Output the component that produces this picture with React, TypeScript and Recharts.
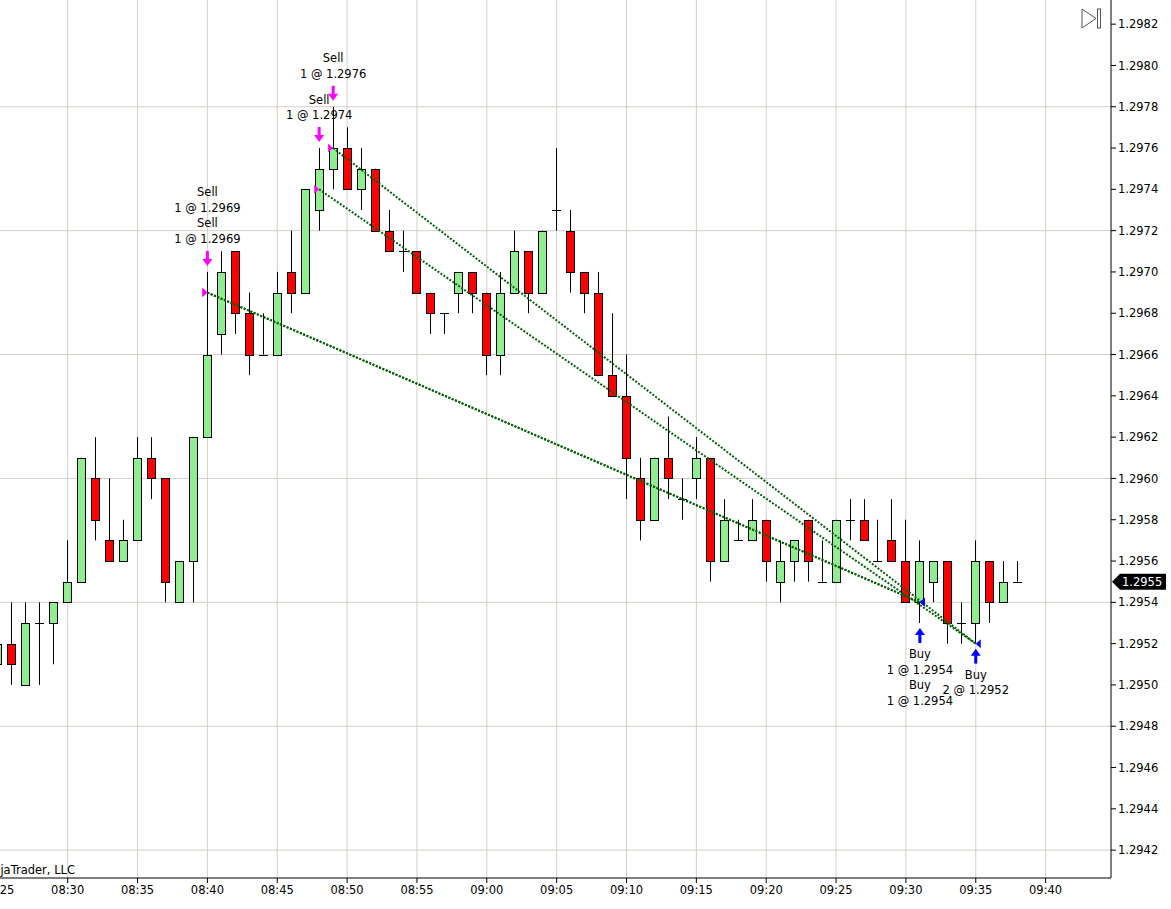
import React from "react";
import {
  ComposedChart,
  Bar,
  Line,
  Scatter,
  XAxis,
  YAxis,
  CartesianGrid,
  ReferenceLine,
} from "recharts";

// 1-minute bars
const times = [
  "08:25", "08:26", "08:27", "08:28", "08:29", "08:30", "08:31", "08:32", "08:33", "08:34",
  "08:35", "08:36", "08:37", "08:38", "08:39", "08:40", "08:41", "08:42", "08:43", "08:44",
  "08:45", "08:46", "08:47", "08:48", "08:49", "08:50", "08:51", "08:52", "08:53", "08:54",
  "08:55", "08:56", "08:57", "08:58", "08:59", "09:00", "09:01", "09:02", "09:03", "09:04",
  "09:05", "09:06", "09:07", "09:08", "09:09", "09:10", "09:11", "09:12", "09:13", "09:14",
  "09:15", "09:16", "09:17", "09:18", "09:19", "09:20", "09:21", "09:22", "09:23", "09:24",
  "09:25", "09:26", "09:27", "09:28", "09:29", "09:30", "09:31", "09:32", "09:33", "09:34",
  "09:35", "09:36", "09:37", "09:38",
];
const opens = [
  1.2951, 1.2952, 1.2950, 1.2953, 1.2953, 1.2954, 1.2955, 1.2960, 1.2957, 1.2956,
  1.2957, 1.2961, 1.2960, 1.2954, 1.2956, 1.2962, 1.2967, 1.2971, 1.2968, 1.2966,
  1.2966, 1.2970, 1.2969, 1.2973, 1.2975, 1.2976, 1.2974, 1.2975, 1.2972, 1.2971,
  1.2971, 1.2969, 1.2968, 1.2969, 1.2970, 1.2969, 1.2966, 1.2969, 1.2971, 1.2969,
  1.2973, 1.2972, 1.2970, 1.2969, 1.2965, 1.2964, 1.2960, 1.2958, 1.2961, 1.2959,
  1.2960, 1.2961, 1.2956, 1.2957, 1.2957, 1.2958, 1.2955, 1.2956, 1.2958, 1.2955,
  1.2955, 1.2958, 1.2958, 1.2956, 1.2957, 1.2956, 1.2954, 1.2955, 1.2956, 1.2953,
  1.2953, 1.2956, 1.2954, 1.2955,
];
const highs = [
  1.2952, 1.2954, 1.2954, 1.2954, 1.2954, 1.2957, 1.2961, 1.2962, 1.2960, 1.2958,
  1.2962, 1.2962, 1.2960, 1.2956, 1.2962, 1.2970, 1.2971, 1.2971, 1.2969, 1.2968,
  1.2970, 1.2972, 1.2974, 1.2976, 1.2978, 1.2977, 1.2976, 1.2975, 1.2973, 1.2972,
  1.2971, 1.2969, 1.2968, 1.2970, 1.2970, 1.2969, 1.2970, 1.2972, 1.2971, 1.2972,
  1.2976, 1.2973, 1.2970, 1.2970, 1.2968, 1.2966, 1.2961, 1.2961, 1.2963, 1.2960,
  1.2962, 1.2961, 1.2959, 1.2958, 1.2959, 1.2958, 1.2957, 1.2957, 1.2958, 1.2957,
  1.2958, 1.2959, 1.2959, 1.2958, 1.2959, 1.2958, 1.2957, 1.2956, 1.2956, 1.2954,
  1.2957, 1.2956, 1.2956, 1.2956,
];
const lows = [
  1.2950, 1.2950, 1.2950, 1.2950, 1.2951, 1.2954, 1.2955, 1.2957, 1.2956, 1.2956,
  1.2957, 1.2959, 1.2954, 1.2954, 1.2954, 1.2962, 1.2966, 1.2967, 1.2965, 1.2966,
  1.2966, 1.2968, 1.2969, 1.2972, 1.2974, 1.2974, 1.2973, 1.2972, 1.2971, 1.2970,
  1.2969, 1.2967, 1.2967, 1.2968, 1.2968, 1.2965, 1.2965, 1.2969, 1.2968, 1.2969,
  1.2972, 1.2969, 1.2968, 1.2965, 1.2964, 1.2959, 1.2957, 1.2958, 1.2959, 1.2958,
  1.2959, 1.2955, 1.2956, 1.2957, 1.2957, 1.2955, 1.2954, 1.2955, 1.2955, 1.2955,
  1.2955, 1.2957, 1.2957, 1.2956, 1.2956, 1.2954, 1.2953, 1.2954, 1.2952, 1.2952,
  1.2952, 1.2953, 1.2954, 1.2955,
];
const closes = [
  1.2952, 1.2951, 1.2953, 1.2953, 1.2954, 1.2955, 1.2961, 1.2958, 1.2956, 1.2957,
  1.2961, 1.2960, 1.2955, 1.2956, 1.2962, 1.2966, 1.2970, 1.2968, 1.2966, 1.2966,
  1.2969, 1.2969, 1.2974, 1.2975, 1.2976, 1.2974, 1.2975, 1.2972, 1.2971, 1.2971,
  1.2969, 1.2968, 1.2968, 1.2970, 1.2969, 1.2966, 1.2969, 1.2971, 1.2969, 1.2972,
  1.2973, 1.2970, 1.2969, 1.2965, 1.2964, 1.2961, 1.2958, 1.2961, 1.2960, 1.2959,
  1.2961, 1.2956, 1.2958, 1.2957, 1.2958, 1.2956, 1.2956, 1.2957, 1.2956, 1.2955,
  1.2958, 1.2958, 1.2957, 1.2956, 1.2956, 1.2954, 1.2956, 1.2956, 1.2953, 1.2953,
  1.2956, 1.2954, 1.2955, 1.2955,
];

// executions
const sellFills = [
  { time: "08:40", qty: 1, price: 1.2969 },
  { time: "08:40", qty: 1, price: 1.2969 },
  { time: "08:48", qty: 1, price: 1.2974 },
  { time: "08:49", qty: 1, price: 1.2976 },
];
const buyFills = [
  { time: "09:31", qty: 1, price: 1.2954 },
  { time: "09:31", qty: 1, price: 1.2954 },
  { time: "09:35", qty: 2, price: 1.2952 },
];
const tradeLinks = [
  { entry: "08:40", entryPrice: 1.2969, exit: "09:31", exitPrice: 1.2954 },
  { entry: "08:40", entryPrice: 1.2969, exit: "09:31", exitPrice: 1.2954 },
  { entry: "08:48", entryPrice: 1.2974, exit: "09:35", exitPrice: 1.2952 },
  { entry: "08:49", entryPrice: 1.2976, exit: "09:35", exitPrice: 1.2952 },
];

const xTicks = [
  "08:25", "08:30", "08:35", "08:40", "08:45", "08:50", "08:55", "09:00",
  "09:05", "09:10", "09:15", "09:20", "09:25", "09:30", "09:35", "09:40",
];
const yTicks = [
  1.2942, 1.2944, 1.2946, 1.2948, 1.295, 1.2952, 1.2954, 1.2956, 1.2958, 1.296, 1.2962,
  1.2964, 1.2966, 1.2968, 1.297, 1.2972, 1.2974, 1.2976, 1.2978, 1.298, 1.2982,
];
const yGrid = [1.2942, 1.2948, 1.2954, 1.296, 1.2966, 1.2972, 1.2978];

const FONT = "DejaVu Sans";

const toMin = (s: string) => {
  const [h, m] = s.split(":").map(Number);
  return h * 60 + m;
};
const fmtMin = (v: number) => {
  const h = Math.floor(v / 60);
  const m = v % 60;
  return `${String(h).padStart(2, "0")}:${String(m).padStart(2, "0")}`;
};

const candles = times.map((t, i) => ({
  t: toMin(t),
  o: opens[i],
  h: highs[i],
  l: lows[i],
  c: closes[i],
}));

const barAt = (time: string) => candles[times.indexOf(time)];

const groupFills = (fills: typeof sellFills, side: "sell" | "buy") => {
  const groups: { t: number; p: number; lines: string[] }[] = [];
  fills.forEach((f) => {
    const bar = barAt(f.time);
    let g = groups.find((x) => x.t === bar.t);
    if (!g) {
      g = { t: bar.t, p: side === "sell" ? bar.h : bar.l, lines: [] };
      groups.push(g);
    }
    g.lines.push(side === "sell" ? "Sell" : "Buy", `${f.qty} @ ${f.price.toFixed(4)}`);
  });
  return groups;
};

const sellGroups = groupFills(sellFills, "sell");
const buyGroups = groupFills(buyFills, "buy");
const sellPoints = sellFills.map((f) => ({ t: toMin(f.time), p: f.price }));
const buyPoints = buyFills.map((f) => ({ t: toMin(f.time), p: f.price }));
const lastClose = closes[closes.length - 1];

const Candle = (props: any) => {
  const { x, y, width, height, payload } = props;
  if (x == null || !payload) return null;
  const { o, h, l, c } = payload;
  const cx = Math.round(x + width / 2) + 0.5;
  const k = height / (h - l);
  const py = (v: number) => y + (h - v) * k;
  const top = Math.round(py(Math.max(o, c))) + 0.5;
  const bot = Math.round(py(Math.min(o, c))) + 0.5;
  return (
    <g>
      <line x1={cx} x2={cx} y1={y} y2={y + height} stroke="#000" strokeWidth={1} />
      {o === c ? (
        <line x1={cx - 4.5} x2={cx + 4.5} y1={top} y2={top} stroke="#000" strokeWidth={1} />
      ) : (
        <rect
          x={cx - 4}
          y={top}
          width={8}
          height={bot - top}
          fill={c > o ? "#90ee90" : "#ff0000"}
          stroke="#000"
          strokeWidth={1}
        />
      )}
    </g>
  );
};

const SellMark = (props: any) => {
  const { cx, cy, payload } = props;
  const tip = cy - 6;
  const lines: string[] = payload.lines;
  return (
    <g>
      <rect x={cx - 1.5} y={tip - 15} width={3} height={9} fill="#ff00ff" />
      <polygon points={`${cx - 5},${tip - 7} ${cx + 5},${tip - 7} ${cx},${tip}`} fill="#ff00ff" />
      {lines.map((s, i) => (
        <text
          key={i}
          x={cx}
          y={cy - 33 - 15.5 * (lines.length - 1 - i)}
          dy="0.35em"
          textAnchor="middle"
          fontFamily={FONT}
          fontSize={11.5}
          fill="#000"
        >
          {s}
        </text>
      ))}
    </g>
  );
};

const BuyMark = (props: any) => {
  const { cx, cy, payload } = props;
  const tip = cy + 5;
  const lines: string[] = payload.lines;
  return (
    <g>
      <rect x={cx - 1.5} y={tip + 6} width={3} height={9} fill="#0000ff" />
      <polygon points={`${cx - 5},${tip + 7} ${cx + 5},${tip + 7} ${cx},${tip}`} fill="#0000ff" />
      {lines.map((s, i) => (
        <text
          key={i}
          x={cx}
          y={cy + 31 + 15.5 * i}
          dy="0.35em"
          textAnchor="middle"
          fontFamily={FONT}
          fontSize={11.5}
          fill="#000"
        >
          {s}
        </text>
      ))}
    </g>
  );
};

const SellFillMark = (props: any) => {
  const { cx, cy } = props;
  return <polygon points={`${cx - 5},${cy - 4.5} ${cx},${cy} ${cx - 5},${cy + 4.5}`} fill="#ff00ff" />;
};

const BuyFillMark = (props: any) => {
  const { cx, cy } = props;
  return <polygon points={`${cx + 5},${cy - 4.5} ${cx},${cy} ${cx + 5},${cy + 4.5}`} fill="#0000ff" />;
};

const PriceFlag = (props: any) => {
  const vb = props.viewBox || {};
  const x0 = (vb.x || 0) + (vb.width || 0) + 1;
  const y0 = vb.y || 0;
  return (
    <g>
      <polygon
        points={`${x0},${y0} ${x0 + 8},${y0 - 8} ${x0 + 54},${y0 - 8} ${x0 + 54},${y0 + 8} ${x0 + 8},${y0 + 8}`}
        fill="#000"
      />
      <text x={x0 + 10} y={y0} dy="0.36em" fontFamily={FONT} fontSize={11.5} fill="#fff">
        {lastClose.toFixed(4)}
      </text>
    </g>
  );
};

export default function App() {
  return (
    <div style={{ position: "relative", width: 1171, height: 909, background: "#fff" }}>
      <style>{"body{margin:0;background:#fff}"}</style>
      <ComposedChart
        width={1171}
        height={909}
        data={candles}
        margin={{ top: 0, right: 0, bottom: 0, left: 0 }}
        style={{ fontFamily: FONT }}
      >
        <CartesianGrid
          stroke="#d4d0c8"
          horizontalValues={yGrid}
          verticalValues={xTicks.map(toMin)}
        />
        <XAxis
          dataKey="t"
          type="number"
          domain={[505.154, 584.68]}
          allowDataOverflow
          ticks={xTicks.map(toMin)}
          interval={0}
          tickFormatter={fmtMin}
          height={31}
          tickSize={5}
          tickMargin={3}
          axisLine={{ stroke: "#000" }}
          tickLine={{ stroke: "#000" }}
          tick={{ fill: "#000", fontSize: 11.5, fontFamily: FONT }}
        />
        <YAxis
          orientation="right"
          type="number"
          domain={[1.294065, 1.298317]}
          allowDataOverflow
          ticks={yTicks}
          interval={0}
          tickFormatter={(v: number) => v.toFixed(4)}
          width={60}
          tickSize={5}
          tickMargin={2}
          axisLine={{ stroke: "#000" }}
          tickLine={{ stroke: "#000" }}
          tick={{ fill: "#000", fontSize: 11.5, fontFamily: FONT }}
        />
        <Bar
          dataKey={(d: any) => [d.l, d.h]}
          barSize={9}
          shape={<Candle />}
          isAnimationActive={false}
        />
        {tradeLinks.map((lk, i) => (
          <Line
            key={i}
            data={[
              { t: toMin(lk.entry), p: lk.entryPrice },
              { t: toMin(lk.exit), p: lk.exitPrice },
            ]}
            dataKey="p"
            stroke="#006400"
            strokeWidth={2}
            strokeDasharray="2 1.6"
            dot={false}
            activeDot={false}
            isAnimationActive={false}
          />
        ))}
        <Scatter data={sellPoints} dataKey="p" shape={<SellFillMark />} isAnimationActive={false} />
        <Scatter data={buyPoints} dataKey="p" shape={<BuyFillMark />} isAnimationActive={false} />
        <Scatter data={sellGroups} dataKey="p" shape={<SellMark />} isAnimationActive={false} />
        <Scatter data={buyGroups} dataKey="p" shape={<BuyMark />} isAnimationActive={false} />
        <ReferenceLine y={lastClose} stroke="none" ifOverflow="visible" label={<PriceFlag />} />
      </ComposedChart>
      <svg
        width={1171}
        height={909}
        style={{ position: "absolute", left: 0, top: 0, pointerEvents: "none" }}
      >
        <polygon points="1082,9 1082,28 1096,18.5" fill="none" stroke="#555" strokeWidth={1} />
        <rect x={1097.5} y={9} width={3} height={19} fill="none" stroke="#555" strokeWidth={1} />
        <text x={75} y={874} textAnchor="end" fontFamily={FONT} fontSize={11.5} fill="#000">
          NinjaTrader, LLC
        </text>
      </svg>
    </div>
  );
}
